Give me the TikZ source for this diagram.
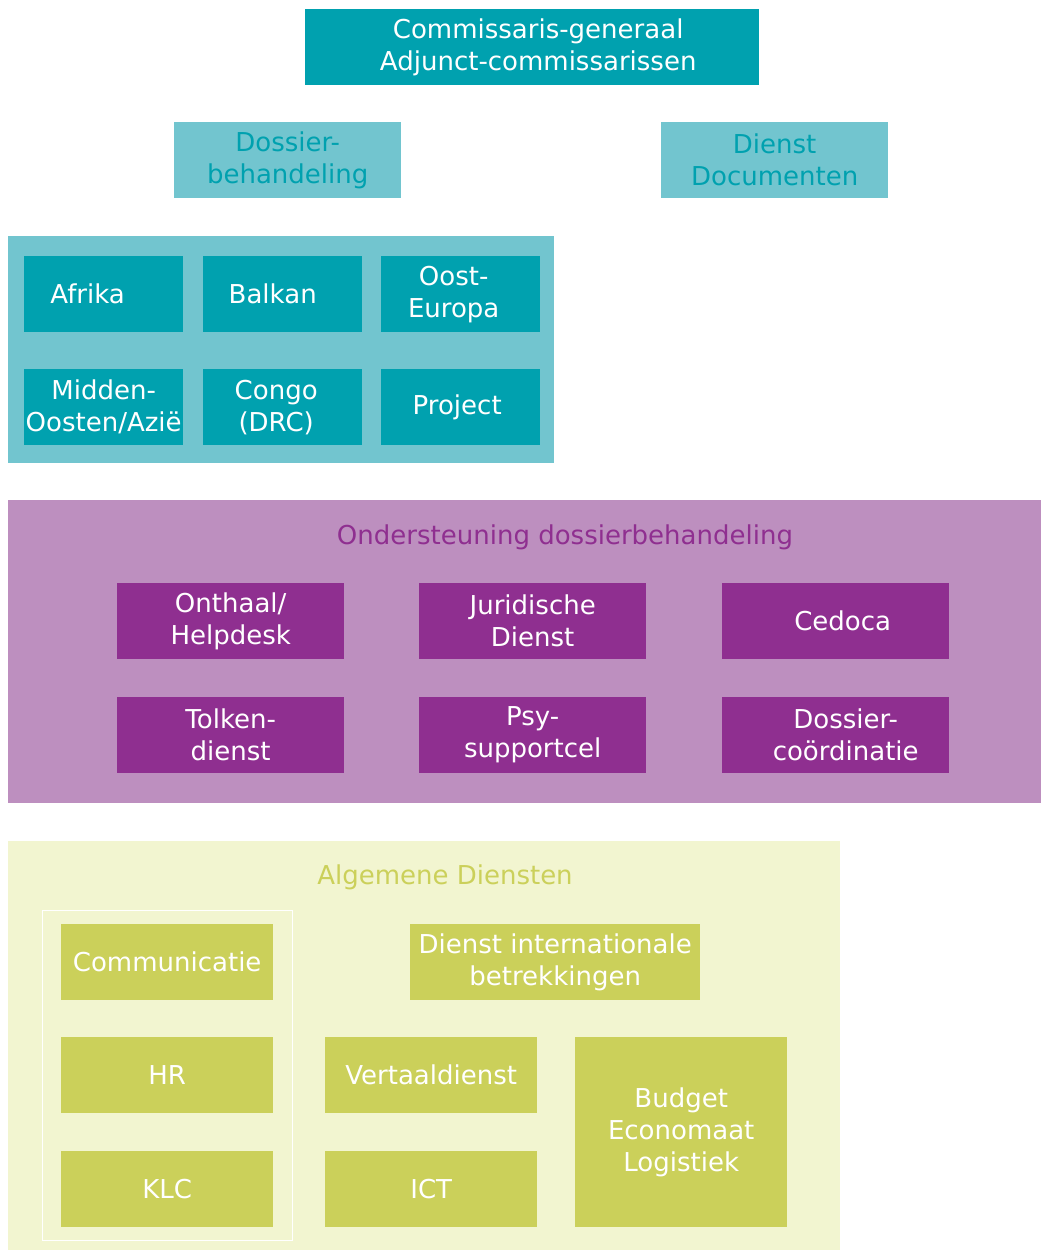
\documentclass[tikz,border=0pt]{standalone}
\usepackage{fontspec}
\setmainfont{DejaVu Sans}
\definecolor{tealdark}{RGB}{0,161,175}
\definecolor{teallight}{RGB}{114,197,207}
\definecolor{purpledark}{RGB}{143,47,144}
\definecolor{purplelight}{RGB}{189,143,191}
\definecolor{yellowdark}{RGB}{203,208,90}
\definecolor{yellowlight}{RGB}{242,245,208}
\tikzset{
  box/.style={anchor=north west, inner sep=0pt, align=center, text=white,
    font=\fontsize{26}{32}\selectfont},
  panel/.style={anchor=north west, inner sep=0pt, minimum width=#1},
  tealbox/.style={box, fill=tealdark, minimum width=159pt, minimum height=76pt},
  dossbox/.style={box, fill=teallight, text=tealdark, minimum width=227pt, minimum height=76pt},
  purplebox/.style={box, fill=purpledark, minimum width=227pt, minimum height=76pt},
  yellowbox/.style={box, fill=yellowdark, minimum width=212pt, minimum height=76pt},
  paneltitle/.style={font=\fontsize{26}{32}\selectfont}
}
\begin{document}
\begin{tikzpicture}[x=1pt,y=-1pt]
  \useasboundingbox (0,0) rectangle (1041,1250);
  % top
  \node[box, fill=tealdark, minimum width=454pt, minimum height=76pt] (cg) at (305,9) {\hspace*{12pt}Commissaris-generaal\\\hspace*{12pt}Adjunct-commissarissen};
  \node[dossbox] (dossier) at (174,122) {Dossier-\\behandeling};
  \node[dossbox] (documenten) at (661,122) {Dienst\\Documenten};
  % geografische secties
  \node[panel=546pt, fill=teallight, minimum height=227pt] (geo) at (8,236) {};
  \node[tealbox] (afrika) at (24,256) {Afrika\hspace*{32pt}};
  \node[tealbox] (balkan) at (203,256) {Balkan\hspace*{20pt}};
  \node[tealbox] (oost) at (381,256) {Oost-\hspace*{14pt}\\Europa\hspace*{14pt}};
  \node[tealbox] (midden) at (24,369) {Midden-\\Oosten/Azië};
  \node[tealbox] (congo) at (203,369) {Congo\hspace*{13pt}\\(DRC)\hspace*{13pt}};
  \node[tealbox] (project) at (381,369) {Project\hspace*{7pt}};
  % ondersteuning
  \node[panel=1033pt, fill=purplelight, minimum height=303pt] (ond) at (8,500) {};
  \node[paneltitle, text=purpledark] (ondtitle) at (565,537) {Ondersteuning dossierbehandeling};
  \node[purplebox] (onthaal) at (117,583) {Onthaal/\\Helpdesk};
  \node[purplebox] (juridisch) at (419,583) {Juridische\\Dienst};
  \node[purplebox] (cedoca) at (722,583) {\hspace*{14pt}Cedoca};
  \node[purplebox] (tolken) at (117,697) {Tolken-\\dienst};
  \node[purplebox] (psy) at (419,697) {Psy-\\supportcel};
  \node[purplebox] (coord) at (722,697) {\hspace*{20pt}Dossier-\\\hspace*{20pt}coördinatie};
  % algemene diensten
  \node[panel=832pt, fill=yellowlight, minimum height=409pt] (alg) at (8,841) {};
  \node[paneltitle, text=yellowdark] (algtitle) at (445,877) {Algemene Diensten};
  \node[panel=250pt, draw=white, line width=1pt, minimum height=330pt] (staf) at (42,910) {};
  \node[yellowbox] (communicatie) at (61,924) {Communicatie};
  \node[yellowbox] (hr) at (61,1037) {HR};
  \node[yellowbox] (klc) at (61,1151) {KLC};
  \node[yellowbox, minimum width=290pt] (internationaal) at (410,924) {Dienst internationale\\betrekkingen};
  \node[yellowbox] (vertaal) at (325,1037) {Vertaaldienst};
  \node[yellowbox] (ict) at (325,1151) {ICT};
  \node[yellowbox, minimum height=190pt] (budget) at (575,1037) {Budget\\Economaat\\Logistiek};
\end{tikzpicture}
\end{document}
